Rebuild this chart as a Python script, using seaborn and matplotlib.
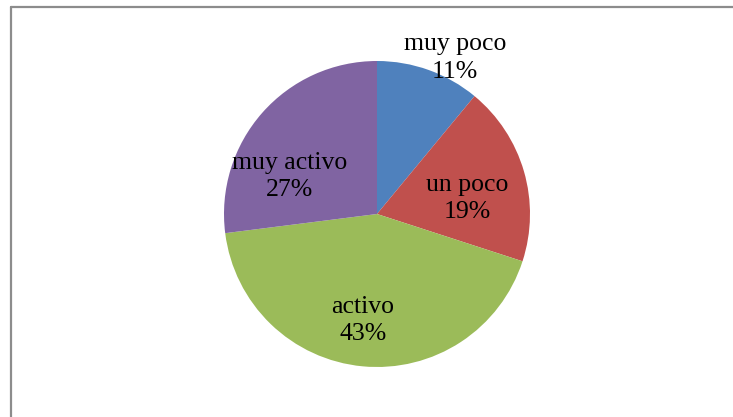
import matplotlib
matplotlib.use("Agg")
import matplotlib.pyplot as plt
import seaborn as sns
import numpy as np
from matplotlib.lines import Line2D

sns.set_theme(style="white")
plt.rcParams['font.family'] = ['Liberation Serif', 'DejaVu Serif']

categories = ["muy poco", "un poco", "activo", "muy activo"]
percentages = [11, 19, 43, 27]
colors = ["#4F81BD", "#C0504D", "#9BBB59", "#8064A2"]

# label anchor points (radius fraction, angle in degrees) for each slice
label_polar = [(1.14, 63.4), (0.60, 10.0), (0.70, -97.5), (0.62, 157.0)]

fig = plt.figure(figsize=(7.33, 4.17), dpi=100)
ax = fig.add_axes([224 / 733, 50 / 417, 306 / 733, 306 / 417])

ax.pie(percentages, colors=colors, startangle=90, counterclock=False,
       radius=1.0, wedgeprops=dict(linewidth=0))
ax.set_xlim(-1, 1)
ax.set_ylim(-1, 1)
ax.set_aspect("equal")
ax.axis("off")

for name, pct, (r, ang) in zip(categories, percentages, label_polar):
    x = r * np.cos(np.radians(ang))
    y = r * np.sin(np.radians(ang))
    ax.text(x, y, f"{name}\n{pct}%", ha="center", va="center",
            fontsize=18.5, color="black", linespacing=1.3, clip_on=False)

# chart-area frame (top and left edges)
fig.add_artist(Line2D([10.5 / 733, 1.0], [1 - 7 / 417, 1 - 7 / 417],
                      transform=fig.transFigure, color="#8c8c8c", lw=1.6))
fig.add_artist(Line2D([10.5 / 733, 10.5 / 733], [0.0, 1 - 7 / 417],
                      transform=fig.transFigure, color="#8c8c8c", lw=1.6))

fig.savefig("out.png", dpi=100, facecolor="white")
